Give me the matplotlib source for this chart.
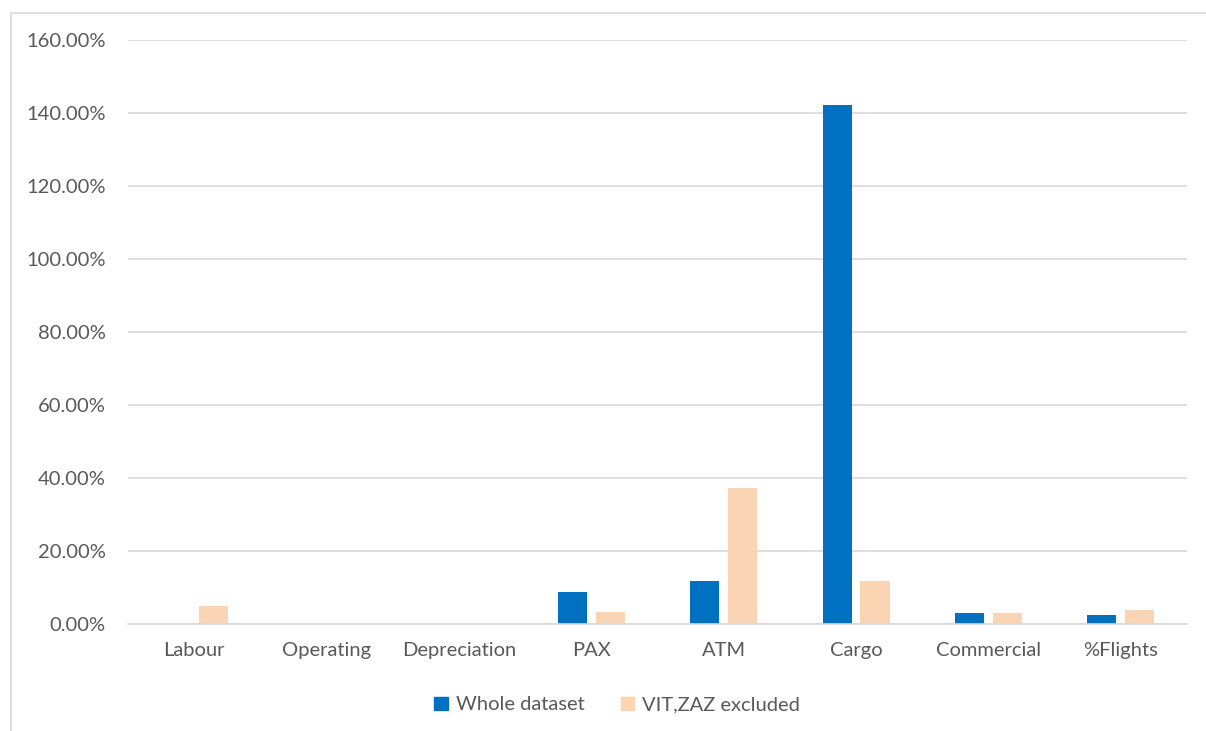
import numpy as np
import matplotlib.pyplot as plt
from matplotlib.patches import Patch, Rectangle

categories = ['Labour', 'Operating', 'Depreciation', 'PAX', 'ATM', 'Cargo', 'Commercial', '%Flights']
whole = [-0.1, 0.0, 0.0, 8.7, 11.8, 142.2, 2.9, 2.5]
excluded = [5.0, 0.0, 0.0, 3.4, 37.3, 11.8, 2.9, 3.9]
yticks = [0, 20, 40, 60, 80, 100, 120, 140, 160]

blue = '#0070C0'
peach = '#FBD4B4'
txt = '#595959'
plt.rcParams['font.family'] = ['Lato', 'DejaVu Sans']

fig = plt.figure(figsize=(12.06, 7.31), dpi=100)
W, H = 1206, 731
ax = fig.add_axes([128 / W, 1 - 624 / H, (1187 - 128) / W, (624 - 40) / H])

# chart border
fig.patches.append(Rectangle((11 / W, -0.05), 1.2, 1 - 13 / H + 0.05, transform=fig.transFigure,
                             fill=False, edgecolor='#D9D9D9', linewidth=1.2))

x = np.arange(len(categories))
bw = 0.22
ax.bar(x - 0.143, whole, bw, color=blue, label='Whole dataset', zorder=3, clip_on=False)
ax.bar(x + 0.143, excluded, bw, color=peach, label='VIT,ZAZ excluded', zorder=3, clip_on=False)

ax.set_xlim(-0.5, len(categories) - 0.5)
ax.set_ylim(0, 160)
ax.set_yticks(yticks)
ax.set_yticklabels(['%.2f%%' % v for v in yticks])
ax.set_xticks(x)
ax.set_xticklabels(categories)
ax.yaxis.grid(True, color='#D9D9D9', linewidth=1.2, zorder=0)
ax.set_axisbelow(True)
for s in ['top', 'right', 'left']:
    ax.spines[s].set_visible(False)
ax.spines['bottom'].set_color('#D9D9D9')
ax.spines['bottom'].set_linewidth(1.2)
ax.spines['bottom'].set_zorder(4)
ax.tick_params(length=0, labelsize=14.5, colors=txt)
ax.tick_params(axis='y', pad=16)
ax.tick_params(axis='x', pad=13)

handles = [Patch(color=blue), Patch(color=peach)]
fig.legend(handles, ['Whole dataset', 'VIT,ZAZ excluded'], loc='center', bbox_to_anchor=(617 / W, 1 - 705 / H),
           ncol=2, frameon=False, fontsize=14.5, labelcolor=txt, handlelength=0.65, handleheight=0.65,
           handletextpad=0.4, columnspacing=1.8)

fig.savefig('out.png', dpi=100)
